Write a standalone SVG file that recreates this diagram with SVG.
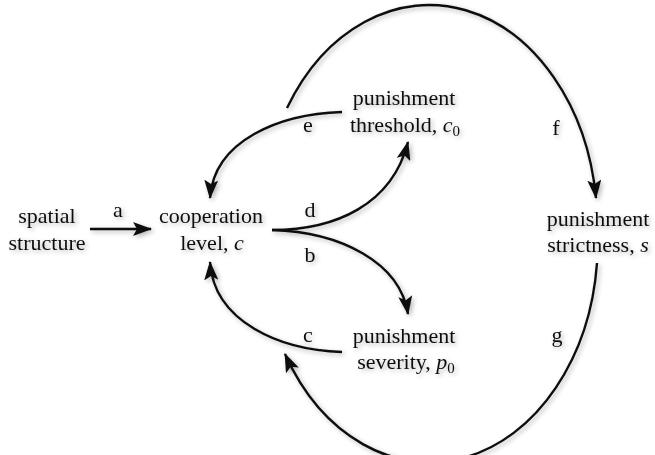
<svg xmlns="http://www.w3.org/2000/svg" width="655" height="455" viewBox="0 0 655 455">
<style>
text{font-family:"Liberation Serif","Times New Roman",serif;font-size:22px;fill:#111}
.n text{text-anchor:middle}
.lbl{text-anchor:middle}
.c path{fill:none;stroke:#111;stroke-width:2.4}
.i{font-style:italic}
.s{font-size:15px}
</style>
<defs>
<filter id="sh" x="-10%" y="-10%" width="120%" height="120%">
<feGaussianBlur in="SourceAlpha" stdDeviation="2.5"/>
<feOffset dx="2" dy="2" result="b"/>
<feComponentTransfer><feFuncA type="linear" slope="0.3"/></feComponentTransfer>
<feMerge><feMergeNode/><feMergeNode in="SourceGraphic"/></feMerge>
</filter>
<marker id="ah" markerUnits="userSpaceOnUse" markerWidth="19" markerHeight="14" viewBox="0 0 19 14" refX="18" refY="7" orient="auto">
<path d="M0,0 L19,7 L0,14 L4,7 z" fill="#111"/>
</marker>
</defs>
<g filter="url(#sh)">
<g id="connectors" class="c">
<path d="M90,229 L151,229" marker-end="url(#ah)"/>
<path d="M272,230 C335,230 392,205 408,142" marker-end="url(#ah)"/>
<path d="M272,230 C340,232 400,262 408,314" marker-end="url(#ah)"/>
<path d="M342,112 C280,114 214,140 210,198" marker-end="url(#ah)"/>
<path d="M342,352 C280,350 214,322 210,262" marker-end="url(#ah)"/>
<path d="M287,108 A168,220 0 0 1 596,198" marker-end="url(#ah)"/>
<path d="M597,263 A168,220 0 0 1 285,354" marker-end="url(#ah)"/>
</g>
<g id="labels">
<text class="lbl" x="118" y="217">a</text>
<text class="lbl" x="310" y="217">d</text>
<text class="lbl" x="310" y="262">b</text>
<text class="lbl" x="308" y="132">e</text>
<text class="lbl" x="308" y="342">c</text>
<text class="lbl" x="556" y="135">f</text>
<text class="lbl" x="557" y="342">g</text>
</g>
<g id="spatial" class="n">
<text x="47" y="223">spatial</text>
<text x="47" y="250">structure</text>
</g>
<g id="cooperation" class="n">
<text x="211" y="223">cooperation</text>
<text x="212" y="250">level, <tspan class="i">c</tspan></text>
</g>
<g id="threshold" class="n">
<text x="404" y="105">punishment</text>
<text x="405" y="132">threshold, <tspan class="i">c</tspan><tspan class="s" dy="4">0</tspan></text>
</g>
<g id="severity" class="n">
<text x="404" y="343">punishment</text>
<text x="406" y="369">severity, <tspan class="i">p</tspan><tspan class="s" dy="4">0</tspan></text>
</g>
<g id="strictness" class="n">
<text x="598" y="226">punishment</text>
<text x="598" y="252">strictness, <tspan class="i">s</tspan></text>
</g>
</g>
</svg>
